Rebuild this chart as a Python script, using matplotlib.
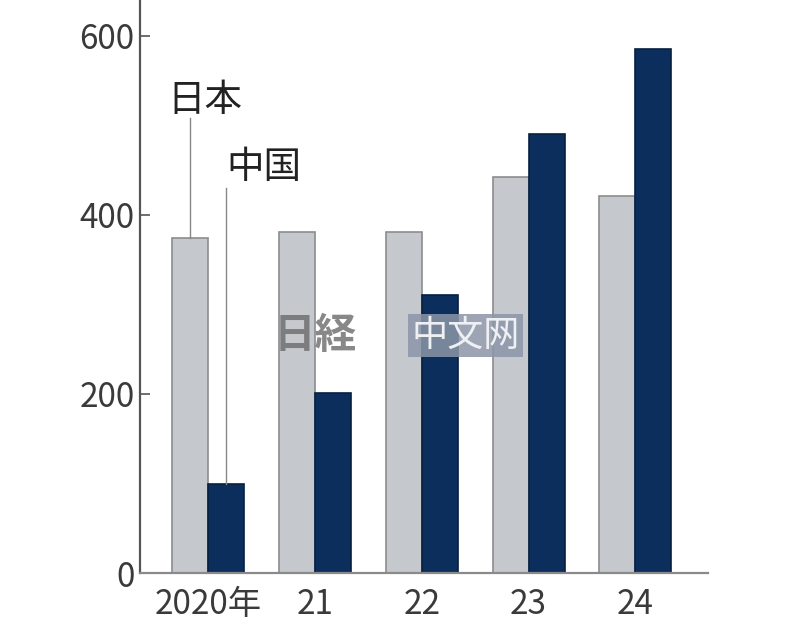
import matplotlib.pyplot as plt
import numpy as np

# data
years = ["2020年", "21", "22", "23", "24"]
japan = [374, 381, 381, 442, 421]
china = [100, 201, 311, 490, 585]
yticks = [0, 200, 400, 600]

plt.rcParams['font.family'] = ['Noto Sans CJK JP', 'DejaVu Sans']

fig = plt.figure(figsize=(8, 6.41), dpi=100)
ax = fig.add_axes([0.175, 0.106, 0.71, 0.894])

x = np.arange(len(years))
w = 0.337
ax.bar(x - w / 2, japan, w, color="#c5c9ce", edgecolor="#8c8c8c", linewidth=1.2, zorder=2)
ax.bar(x + w / 2, china, w, color="#0c2e5c", edgecolor="#07203f", linewidth=1.2, zorder=2)

ax.set_xlim(-0.637, 4.68)
ax.set_ylim(0, 640)
ax.set_yticks(yticks)
ax.set_xticks(x)
ax.set_xticklabels(years)

for s in ["top", "right"]:
    ax.spines[s].set_visible(False)
ax.spines["left"].set_color("#555555")
ax.spines["left"].set_linewidth(1.6)
ax.spines["bottom"].set_color("#8a8a8a")
ax.spines["bottom"].set_linewidth(1.6)

ax.tick_params(axis="y", direction="in", length=7, width=1.2, color="#555555",
               labelsize=24, labelcolor="#3a3a3a", pad=4)
ax.tick_params(axis="x", length=0, labelsize=24, labelcolor="#3a3a3a", pad=10)

# series labels with leader lines
ax.text(x[0] - 0.385, 528, "日本", fontsize=27, color="#222222", ha="left", va="center")
ax.plot([x[0] - w / 2] * 2, [japan[0], 508], color="#888888", lw=1.0, zorder=3)
ax.text(x[0] + 0.175, 453, "中国", fontsize=27, color="#222222", ha="left", va="center")
ax.plot([x[0] + w / 2] * 2, [china[0], 430], color="#888888", lw=1.0, zorder=3)

# watermark
ax.text(2.41, 265, "中文网", fontsize=26, color="#eef0f4", ha="center", va="center",
        zorder=5, bbox=dict(boxstyle="square,pad=0.1", fc="#8c96a8", ec="none", alpha=0.85))
ax.text(1.0, 265, "日経", fontsize=30, color="#6a6a6a", ha="center", va="center",
        fontweight="bold", zorder=5, alpha=0.8)

fig.savefig("out.png", dpi=100)
